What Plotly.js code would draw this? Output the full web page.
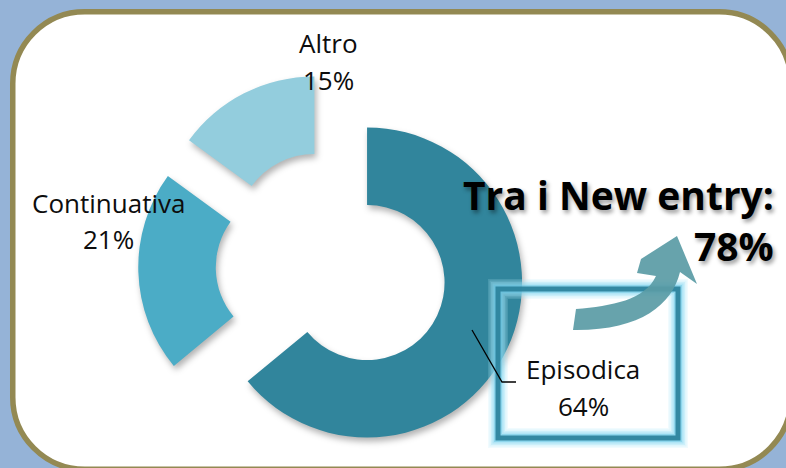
<!DOCTYPE html>
<html>
<head>
<meta charset="utf-8">
<script src="https://cdn.plot.ly/plotly-3.0.1.min.js"></script>
<style>
  html, body { margin: 0; padding: 0; background: #95b3d7; }
  #chart { width: 786px; height: 468px; }
  .pielayer .slice path.surface { filter: drop-shadow(2px 4px 3px rgba(0,0,0,0.30)); }
</style>
</head>
<body>
<div id="chart"></div>
<script>
// ---- data ----
const labels = ['Episodica', 'Continuativa', 'Altro'];
const values = [64, 21, 15];
const colors = ['#31859c', '#4bacc6', '#93cddd'];
const highlightTitle = 'Tra i New entry:';
const highlightValue = 78;

// ---- layout helpers (styling only) ----
const W = 786, H = 468;
const px = (x) => x / W;
const py = (y) => 1 - y / H;
const P = (x, y) => px(x).toFixed(5) + ',' + py(y).toFixed(5);

function roundRect(l, t, r, b, rad) {
  const k = 0.5523 * rad;
  return 'M' + P(l + rad, t) + ' L' + P(r - rad, t) +
    ' C' + P(r - rad + k, t) + ' ' + P(r, t + rad - k) + ' ' + P(r, t + rad) +
    ' L' + P(r, b - rad) +
    ' C' + P(r, b - rad + k) + ' ' + P(r - rad + k, b) + ' ' + P(r - rad, b) +
    ' L' + P(l + rad, b) +
    ' C' + P(l + rad - k, b) + ' ' + P(l, b - rad + k) + ' ' + P(l, b - rad) +
    ' L' + P(l, t + rad) +
    ' C' + P(l, t + rad - k) + ' ' + P(l + rad - k, t) + ' ' + P(l + rad, t) + ' Z';
}

// pie geometry: centre (332,266), outer radius 155, pull 0.25 -> box 387.5
const cx = 332, cy = 266, box = 387.5;
const domain = {
  x: [px(cx - box / 2), px(cx + box / 2)],
  y: [py(cy + box / 2), py(cy - box / 2)]
};

const trace = {
  type: 'pie',
  labels: labels,
  values: values,
  sort: false,
  direction: 'clockwise',
  rotation: 0,
  hole: 0.5,
  pull: values.map(() => 0.25),
  marker: { colors: colors, line: { width: 0 } },
  textinfo: 'none',
  hoverinfo: 'label+percent',
  showlegend: false,
  domain: domain
};

// label placement (style)
const labelPos = [
  { x: 583, y1: 369, y2: 406 },
  { x: 108, y1: 203, y2: 239 },
  { x: 328, y1: 43, y2: 80 }
];
const lblFont = { family: 'Open Sans, Noto Sans, sans-serif', size: 26, color: '#0d0d0d' };
const annotations = [];
labels.forEach((lab, i) => {
  annotations.push({ xref: 'paper', yref: 'paper', x: px(labelPos[i].x), y: py(labelPos[i].y1),
    text: lab, showarrow: false, xanchor: 'center', yanchor: 'middle', borderpad: 0, font: lblFont });
  annotations.push({ xref: 'paper', yref: 'paper', x: px(labelPos[i].x), y: py(labelPos[i].y2),
    text: values[i] + '%', showarrow: false, xanchor: 'center', yanchor: 'middle', borderpad: 0, font: lblFont });
});
const hlFont = { family: 'Open Sans, Noto Sans, sans-serif', size: 39, color: '#000000', weight: 700,
  shadow: '2px 3px 4px rgba(0,0,0,0.40)' };
annotations.push({ xref: 'paper', yref: 'paper', x: px(775), y: py(194), text: '<b>' + highlightTitle + '</b>',
  showarrow: false, xanchor: 'right', yanchor: 'middle', borderpad: 0, font: hlFont });
annotations.push({ xref: 'paper', yref: 'paper', x: px(775), y: py(245), text: '<b>' + highlightValue + '%</b>',
  showarrow: false, xanchor: 'right', yanchor: 'middle', borderpad: 0, font: hlFont });

// decorations
const arrowPath = 'M' + P(576, 309) +
  ' C' + P(612, 306) + ' ' + P(645, 300) + ' ' + P(656, 276) +
  ' L' + P(637, 273) + ' L' + P(641, 259) + ' L' + P(677, 236) +
  ' L' + P(697, 284) + ' L' + P(680, 272) +
  ' C' + P(672, 305) + ' ' + P(640, 331) + ' ' + P(573, 330) + ' Z';

const boxRect = { l: 498, t: 289, r: 678, b: 438 };
function boxShape(width, color) {
  return { type: 'rect', xref: 'paper', yref: 'paper', layer: 'above',
    x0: px(boxRect.l), x1: px(boxRect.r), y0: py(boxRect.b), y1: py(boxRect.t),
    line: { color: color, width: width }, fillcolor: 'rgba(0,0,0,0)' };
}

const shapes = [
  { type: 'path', xref: 'paper', yref: 'paper', layer: 'below',
    path: roundRect(12.75, 11.75, 791.25, 469.25, 72),
    fillcolor: '#ffffff', line: { color: '#938953', width: 5.5 } },
  boxShape(20, 'rgba(175,232,248,0.18)'),
  boxShape(17, 'rgba(165,228,246,0.22)'),
  boxShape(14, 'rgba(150,222,243,0.28)'),
  boxShape(11, 'rgba(130,212,238,0.35)'),
  boxShape(8, 'rgba(100,195,225,0.45)'),
  boxShape(5, 'rgba(45,132,158,0.95)'),
  { type: 'path', xref: 'paper', yref: 'paper', layer: 'above', path: arrowPath,
    fillcolor: 'rgba(90,155,165,0.92)', line: { width: 0 } },
  { type: 'path', xref: 'paper', yref: 'paper', layer: 'above',
    path: 'M' + P(472, 330) + ' L' + P(502, 382) + ' L' + P(516, 382),
    line: { color: '#000000', width: 1.3 } }
];

const layout = {
  width: W, height: H,
  margin: { l: 0, r: 0, t: 0, b: 0, pad: 0 },
  paper_bgcolor: '#95b3d7',
  plot_bgcolor: 'rgba(0,0,0,0)',
  showlegend: false,
  shapes: shapes,
  annotations: annotations
};

Plotly.newPlot('chart', [trace], layout, { displayModeBar: false, staticPlot: true });
</script>
</body>
</html>
